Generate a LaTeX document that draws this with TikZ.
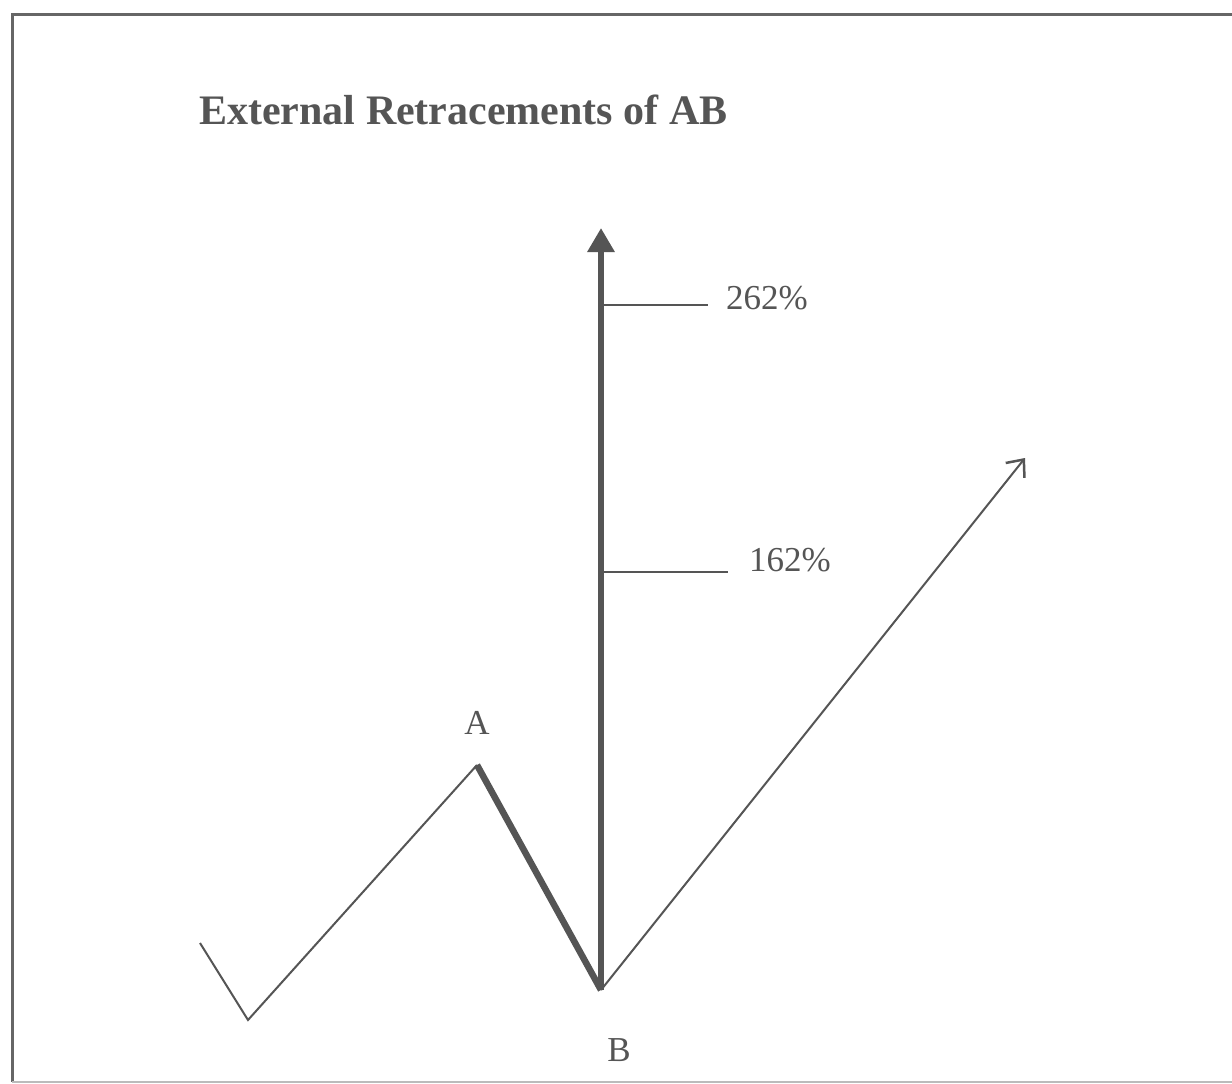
\documentclass[tikz,border=0pt]{standalone}
\usepackage{fontspec}
\setmainfont{Liberation Serif}
\usetikzlibrary{arrows.meta}
\definecolor{ink}{HTML}{555555}
\tikzset{
  thinline/.style={draw=ink, line width=2pt},
  thickline/.style={draw=ink, line width=6.5pt},
  lbl/.style={text=ink, font=\fontsize{35}{38}\selectfont, inner sep=0pt},
}
\begin{document}
\begin{tikzpicture}[x=1pt,y=-1pt]
\useasboundingbox (0,0) rectangle (1232,1084);
\fill[white] (0,0) rectangle (1232,1084);
\draw[draw=ink!90, line width=3pt] (1240,14) -- (12,14) -- (12,1082);
\draw[draw=ink!40, line width=2pt] (12,1082) -- (1240,1082);

\node[text=ink, font=\bfseries\fontsize{42}{44}\selectfont, inner sep=0pt, anchor=base west] (title) at (199,124) {External Retracements of AB};

\coordinate (start) at (200,943);
\coordinate (low) at (248,1020);
\coordinate (A) at (477,765);
\coordinate (B) at (601,990);
\coordinate (top) at (601,228);
\coordinate (end) at (1025,458);
\coordinate (t262) at (601,305);
\coordinate (e262) at (708,305);
\coordinate (t162) at (601,572);
\coordinate (e162) at (728,572);

\draw[thinline, line join=miter] (start) -- (low) -- (A);
\draw[thickline, line join=miter] (A) -- (B);
\draw[thickline, -{Triangle[length=24pt,width=26pt]}] (B) -- (top);
\draw[thinline, -{Straight Barb[length=14pt,width=24pt,line width=2.5pt]}] (B) -- (end);
\draw[thinline] (t262) -- (e262);
\draw[thinline] (t162) -- (e162);

\node[lbl, anchor=west] (l262) at (726,298) {262\%};
\node[lbl, anchor=west] (l162) at (749,560) {162\%};
\node[lbl] (la) at (477,723) {A};
\node[lbl] (lb) at (619,1050) {B};
\end{tikzpicture}
\end{document}
